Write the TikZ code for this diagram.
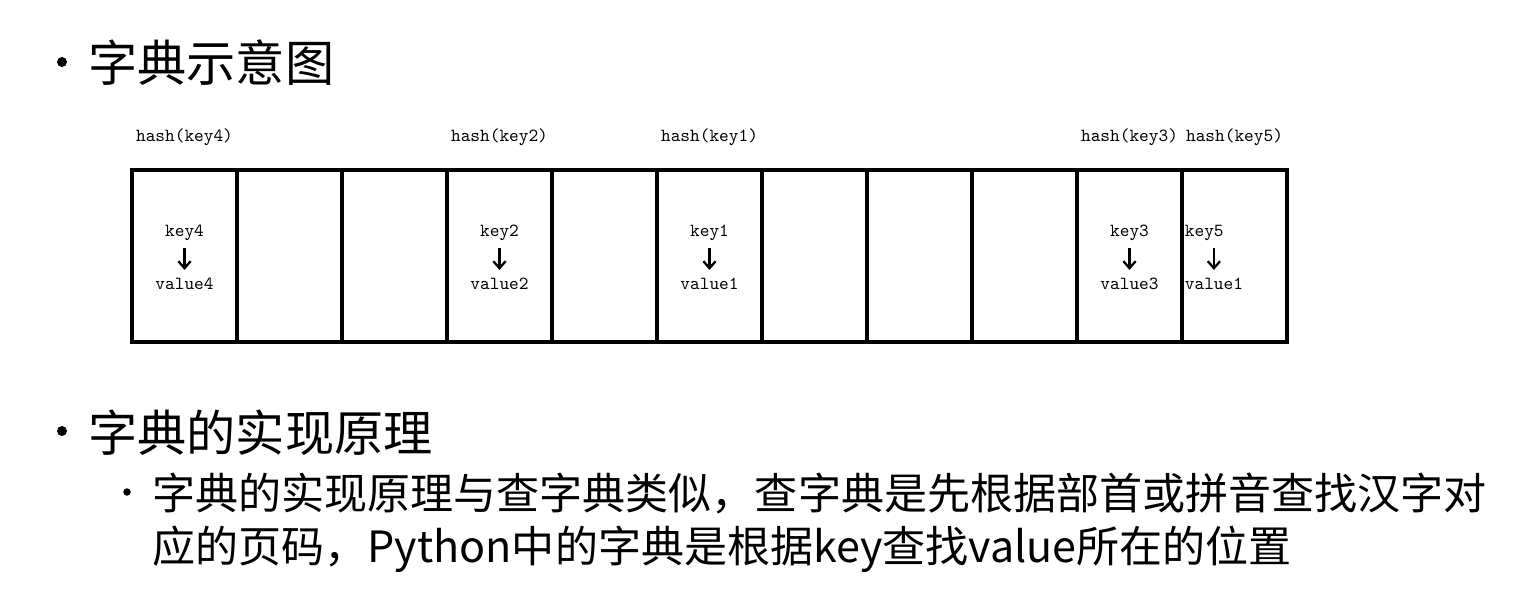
\documentclass[tikz,border=0pt]{standalone}
\usepackage{fontspec}
\newfontfamily\cjk{Noto Sans CJK SC}
\usetikzlibrary{positioning,arrows.meta}

\begin{document}
\begin{tikzpicture}
  [x=0.02cm, y=-0.02cm,
  cell/.style={draw, line width=2pt, minimum width=2.1cm, minimum height=3.44cm, inner sep=0pt},
  code/.style={font=\ttfamily\fontsize{10.5}{12}\selectfont, inner sep=1pt},
  dot/.style={circle, fill, inner sep=0pt, minimum size=#1},
  heading/.style={anchor=base west, font=\cjk\fontsize{28}{32}\selectfont, inner sep=0pt},
  point/.style={anchor=base west, align=left, font=\cjk\fontsize{24.5}{30}\selectfont, inner sep=0pt},
  link/.style={-{Straight Barb[length=4pt,width=7pt]}, line width=1.3pt, shorten <=3pt, shorten >=3.5pt}]
  \useasboundingbox (0,0) rectangle (1513,615);
  % headings
  \node[dot=0.2cm] (d1) at (62,62) {};
  \node[heading] (t1) at (88,82) {字典示意图};
  \node[dot=0.2cm] (d2) at (62,431) {};
  \node[heading] (t2) at (88,451) {字典的实现原理};
  \node[dot=0.15cm] (d3) at (127,492) {};
  \node[point] (p1) at (152,562) {字典的实现原理与查字典类似，查字典是先根据部首或拼音查找汉字对\\应的页码，Python中的字典是根据key查找value所在的位置};
  % hash table slots
  \foreach \i in {0,...,10}
    \node[cell] (c\i) at (184.5+105*\i,256) {};
  \foreach \c/\n in {0/4,3/2,5/1,9/3} {
    \node[code, above=0.41cm of c\c] (h\n) {hash(key\n)};
    \node[code, yshift=0.46cm] (k\n) at (c\c) {key\n};
    \node[code, yshift=-0.56cm] (v\n) at (c\c) {value\n};
    \draw[link] (k\n) -- (v\n);
  }
  % slot shared by key3 and key5
  \node[code, above=0.41cm of c10] (h5) {hash(key5)};
  \node[code, anchor=west] (k5) at ([xshift=0.05cm, yshift=0.46cm]c10.west) {key5};
  \node[code, anchor=west] (v5) at ([xshift=0.05cm, yshift=-0.56cm]c10.west) {value1};
  \draw[link] (k5.south -| v5.north) -- (v5.north);
\end{tikzpicture}
\end{document}
